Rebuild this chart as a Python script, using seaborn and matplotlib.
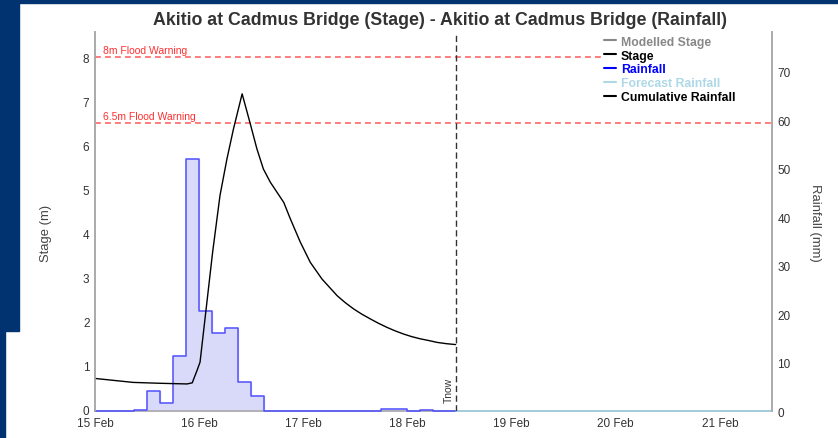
import pandas as pd
import seaborn as sns
import matplotlib.pyplot as plt
import matplotlib.dates as mdates
import matplotlib.transforms as mtransforms
from matplotlib.patches import Rectangle
from matplotlib.lines import Line2D

# stage (m), hours after 15 Feb 00:00
stage_hours = [0, 8.8, 15, 21.2, 22.4, 23.5, 24.2, 27.1, 28.8, 30.4, 31.9, 33.9,
               35.8, 37.3, 38.8, 40.4, 43.5, 45, 47.3, 49.6, 52.3, 55.8, 57.7,
               59.6, 61.5, 63.5, 65.4, 67.3, 69.2, 71.1, 73, 75, 77, 78.8, 81, 83.1]
stage_m = [0.70, 0.61, 0.59, 0.575, 0.60, 0.88, 1.07, 3.57, 4.86, 5.69, 6.37, 7.17,
           6.48, 5.92, 5.46, 5.16, 4.70, 4.33, 3.80, 3.34, 2.96, 2.58, 2.42,
           2.28, 2.16, 2.05, 1.95, 1.86, 1.78, 1.71, 1.65, 1.60, 1.56, 1.52, 1.49, 1.47]

# 3-hourly rainfall (mm), bin start hours after 15 Feb 00:00
rain_hours = [0, 3, 6, 9, 12, 15, 18, 21, 24, 27, 30, 33, 36, 39, 42, 45, 48, 51,
              54, 57, 60, 63, 66, 69, 72, 75, 78, 81, 83.1]
rain_mm = [0, 0, 0, 0.3, 4.2, 1.75, 11.4, 52.1, 20.7, 16.1, 17.2, 6.0, 3.0, 0, 0, 0,
           0, 0, 0, 0, 0, 0, 0.4, 0.5, 0, 0.2, 0, 0, 0]

forecast_hours = [83.1, 156]
forecast_mm = [0, 0]

start = pd.Timestamp("2025-02-15 00:00")
tnow = start + pd.Timedelta(hours=83.1)
warnings = [(8.0, "8m Flood Warning"), (6.5, "6.5m Flood Warning")]

stage_df = pd.DataFrame({"time": start + pd.to_timedelta(stage_hours, unit="h"), "stage": stage_m})
rain_df = pd.DataFrame({"time": start + pd.to_timedelta(rain_hours, unit="h"), "rain": rain_mm})
fc_df = pd.DataFrame({"time": start + pd.to_timedelta(forecast_hours, unit="h"), "rain": forecast_mm})

sns.set_style("white")
plt.rcParams["font.family"] = ["Liberation Sans", "DejaVu Sans"]

fig = plt.figure(figsize=(8.38, 4.39), dpi=100)
# page background around the chart
navy = "#003370"
fig.patches.append(Rectangle((0, 0.99), 1, 0.01, transform=fig.transFigure, color=navy, zorder=-5))
fig.patches.append(Rectangle((0, 0.244), 0.0227, 0.76, transform=fig.transFigure, color=navy, zorder=-5))
fig.patches.append(Rectangle((0, 0), 0.006, 0.25, transform=fig.transFigure, color=navy, zorder=-5))

ax = fig.add_axes([0.1134, 0.0615, 0.8078, 0.8633])
ax2 = ax.twinx()
ax.set_zorder(ax2.get_zorder() + 1)
ax.patch.set_visible(False)

# rainfall on the right axis
ax2.fill_between(rain_df["time"], rain_df["rain"], step="post", color="#d9d9fa", zorder=1)
sns.lineplot(data=rain_df, x="time", y="rain", ax=ax2, color="#5050ff", lw=1.1,
             drawstyle="steps-post", zorder=3, clip_on=False)
sns.lineplot(data=fc_df, x="time", y="rain", ax=ax2, color="#9fd3e6", lw=1.1,
             drawstyle="steps-post", zorder=3, clip_on=False)

# stage on the left axis
sns.lineplot(data=stage_df, x="time", y="stage", ax=ax, color="black", lw=1.0)

for level, label in warnings:
    xmax = 0.748 if level == 8.0 else 1.0
    ax.axhline(level, xmax=xmax, color="#ff6666", lw=1.2, dashes=(3.5, 2.5), zorder=1)
    ax.text(0.012, level + 0.05, label, transform=ax.get_yaxis_transform(),
            color="#ff3030", fontsize=7.5, va="bottom", ha="left")

ax.axvline(tnow, color="#333333", lw=1.0, dashes=(4.5, 2.5))
ax.text(tnow - pd.Timedelta(hours=0.4), 0.025, "Tnow", rotation=90,
        transform=mtransforms.blended_transform_factory(ax.transData, ax.transAxes),
        ha="right", va="bottom", fontsize=7.5, color="#333333")

ax.set_xlim(start, start + pd.Timedelta(hours=156))
ax.set_ylim(-0.04, 8.575)
ax2.set_ylim(0, 78.2)
ax.set_yticks(range(0, 9))
ax2.set_yticks(range(0, 80, 10))
ax.xaxis.set_major_locator(mdates.DayLocator())
ax.xaxis.set_major_formatter(mdates.DateFormatter("%d %b"))

ax.set_xlabel("")
ax2.set_xlabel("")
ax.set_ylabel("Stage (m)", fontsize=9.4, color="#444444")
ax.yaxis.set_label_coords(-0.0635, 0.472)
ax2.set_ylabel("Rainfall (mm)", fontsize=9.4, color="#444444", rotation=270, labelpad=22)
ax.tick_params(length=0, labelsize=8.5, colors="#333333", pad=4)
ax2.tick_params(length=0, labelsize=8.5, colors="#333333", pad=4)

ax.spines["bottom"].set_visible(False)
for a in (ax, ax2):
    a.spines["top"].set_visible(False)
    for s in ("left", "right", "bottom"):
        a.spines[s].set_color("#aaaaaa")
        a.spines[s].set_linewidth(1.2)

ax.set_title("Akitio at Cadmus Bridge (Stage) - Akitio at Cadmus Bridge (Rainfall)",
             fontsize=12.8, fontweight="bold", color="#333333", pad=6, x=0.509)

handles = [Line2D([], [], color="#888888", lw=1.5),
           Line2D([], [], color="black", lw=1.5),
           Line2D([], [], color="blue", lw=1.5),
           Line2D([], [], color="#add8e6", lw=1.5),
           Line2D([], [], color="black", lw=1.5)]
labels = ["Modelled Stage", "Stage", "Rainfall", "Forecast Rainfall", "Cumulative Rainfall"]
text_colors = ["#888888", "black", "blue", "#add8e6", "black"]
leg = ax.legend(handles, labels, loc="upper left", bbox_to_anchor=(0.737, 1.016),
                frameon=False, handlelength=1.0, handletextpad=0.4, labelspacing=0.15,
                borderpad=0.3, prop={"weight": "bold", "size": 8.8})
for t, c in zip(leg.get_texts(), text_colors):
    t.set_color(c)

fig.savefig("out.png", dpi=100)
